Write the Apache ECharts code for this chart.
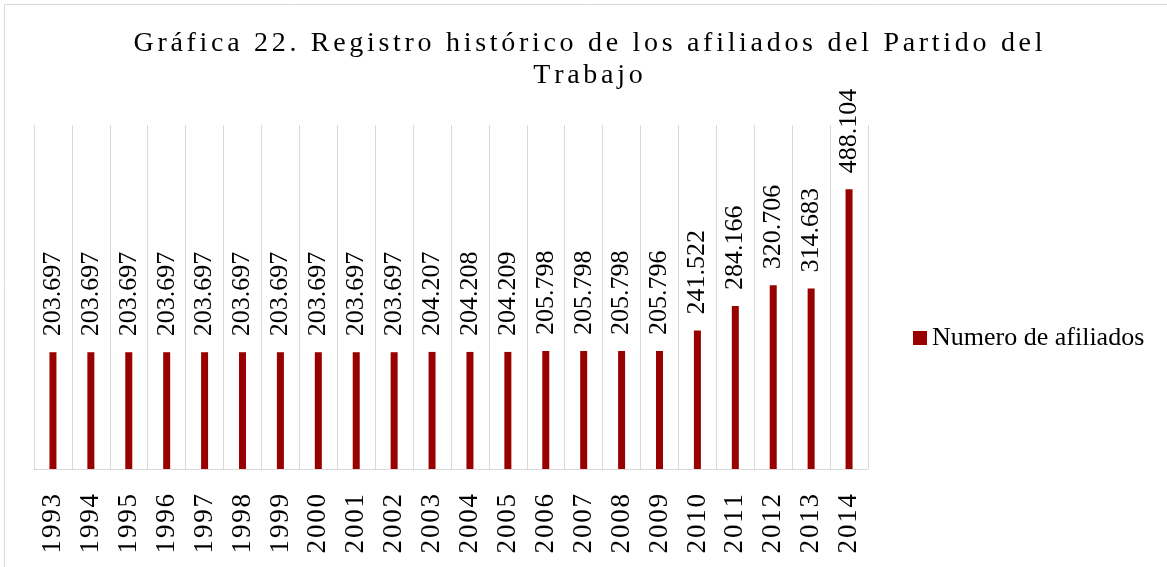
<!DOCTYPE html>
<html>
<head>
<meta charset="utf-8">
<script src="https://cdn.jsdelivr.net/npm/echarts@6/dist/echarts.min.js"></script>
<style>
  html, body { margin: 0; padding: 0; background: #fff; }
  #chart { width: 1167px; height: 567px; }
</style>
</head>
<body>
<div id="chart"></div>
<script>
// data
const years = ['1993', '1994', '1995', '1996', '1997', '1998', '1999', '2000', '2001', '2002', '2003',
  '2004', '2005', '2006', '2007', '2008', '2009', '2010', '2011', '2012', '2013', '2014'];
const afiliados = [203697, 203697, 203697, 203697, 203697, 203697, 203697, 203697, 203697, 203697, 204207,
  204208, 204209, 205798, 205798, 205798, 205796, 241522, 284166, 320706, 314683, 488104];
const seriesName = 'Numero de afiliados';
const titleText = 'Gráfica 22. Registro histórico de los afiliados del Partido del\nTrabajo';

const FONT = '"Liberation Serif", "Times New Roman", serif';
const RED = '#990000';
const GRID_GRAY = '#d9d9d9';

// 203697 -> "203.697"
function fmt(v) {
  return String(v).replace(/\B(?=(\d{3})+(?!\d))/g, '.');
}

// the original uses letter spacing; emulate it with one rich token per character
function spaced(str) {
  return str.split('\n').map(line => {
    const chars = [...line];
    return chars.map((ch, i) => `{${i === chars.length - 1 ? 'e' : 's'}|${ch}}`).join('');
  }).join('\n');
}

function richStyles(size, gap, lineHeight) {
  const base = { fontFamily: FONT, fontSize: size, color: '#000', lineHeight: lineHeight };
  return {
    s: Object.assign({ padding: [0, gap, 0, 0] }, base),
    e: Object.assign({}, base)
  };
}

const chart = echarts.init(document.getElementById('chart'));

chart.setOption({
  animation: false,
  backgroundColor: '#fff',
  graphic: [{
    type: 'rect',
    shape: { x: 4.5, y: 4.5, width: 1200, height: 600 },
    style: { fill: 'none', stroke: GRID_GRAY, lineWidth: 1 },
    silent: true
  }],
  title: {
    text: spaced(titleText),
    left: 583,
    top: 23,
    textAlign: 'center',
    textStyle: {
      fontFamily: FONT,
      fontSize: 28,
      fontWeight: 'normal',
      color: '#000',
      lineHeight: 32,
      rich: richStyles(28, 3.7, 32)
    }
  },
  legend: {
    left: 908,
    top: 320,
    itemWidth: 14,
    itemHeight: 14,
    icon: 'rect',
    textStyle: { fontFamily: FONT, fontSize: 26, color: '#000' },
    data: [seriesName]
  },
  grid: { left: 34, right: 299, top: 125, bottom: 98, containLabel: false },
  xAxis: {
    type: 'category',
    data: years,
    axisLine: { lineStyle: { color: GRID_GRAY, width: 1 } },
    axisTick: { show: false },
    splitLine: { show: true, lineStyle: { color: GRID_GRAY, width: 1 } },
    axisLabel: {
      rotate: 90,
      margin: 25,
      interval: 0,
      fontFamily: FONT,
      fontSize: 27,
      color: '#000',
      formatter: v => spaced(v),
      rich: richStyles(27, 1.8, 27)
    }
  },
  yAxis: {
    type: 'value',
    min: 0,
    max: 600000,
    show: false,
    splitLine: { show: false }
  },
  series: [{
    name: seriesName,
    type: 'bar',
    data: afiliados,
    barWidth: 7,
    itemStyle: { color: RED },
    label: {
      show: true,
      position: 'top',
      rotate: 90,
      align: 'left',
      verticalAlign: 'middle',
      distance: 16,
      fontFamily: FONT,
      fontSize: 26,
      color: '#000',
      formatter: p => fmt(p.value)
    }
  }]
});
</script>
</body>
</html>
